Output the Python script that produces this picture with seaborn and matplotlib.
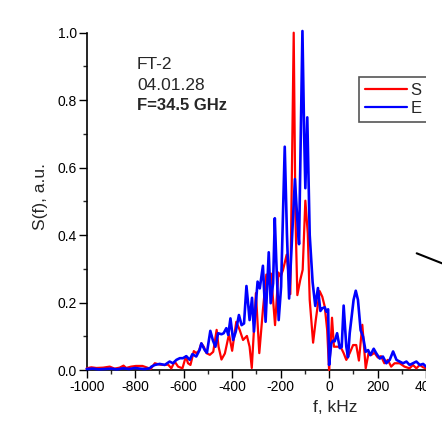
import numpy as np
import pandas as pd
import matplotlib
matplotlib.use("Agg")
import matplotlib.pyplot as plt
import seaborn as sns
from matplotlib.patches import Rectangle
from matplotlib.lines import Line2D
from matplotlib.ticker import MultipleLocator

# ---------------- data ----------------
f_red = [-1000, -981, -960, -932, -905, -885, -864, -848, -837, -817, -797, -770, -750, -736,
         -719, -699, -678, -664, -651, -637, -623, -605, -591, -582, -572, -558, -548, -537,
         -527, -517, -506, -492, -478, -464, -456, -444, -430, -413, -400, -383, -369, -355,
         -339, -328, -319, -310, -302, -288, -273, -259, -249, -240, -231, -223, -209, -200,
         -190, -175, -160, -146, -139, -131, -119, -109, -98, -88, -80, -66, -55, -39, -28,
         -18, -8, 0, 5, 12, 20, 30, 44, 52, 60, 71, 85, 99, 112, 123, 137, 151, 163, 173,
         187, 201, 214, 228, 242, 256, 270, 291, 311, 332, 346, 360, 374, 388, 400]
s_red = [0.005, 0.008, 0.006, 0.007, 0.010, 0.004, 0.007, 0.013, 0.006, 0.010, 0.012, 0.012,
         0.007, 0.003, 0.020, 0.016, 0.015, 0.016, 0.005, 0.025, 0.010, 0.005, 0.040, 0.020,
         0.015, 0.056, 0.050, 0.057, 0.079, 0.069, 0.050, 0.045, 0.054, 0.119, 0.069, 0.031,
         0.049, 0.106, 0.057, 0.143, 0.119, 0.089, 0.101, 0.069, 0.006, 0.120, 0.228, 0.050,
         0.179, 0.283, 0.257, 0.286, 0.207, 0.133, 0.289, 0.277, 0.297, 0.342, 0.225, 1.000,
         0.464, 0.222, 0.267, 0.297, 0.502, 0.405, 0.208, 0.081, 0.148, 0.234, 0.217, 0.188,
         0.119, 0.000, 0.059, 0.155, 0.069, 0.069, 0.069, 0.062, 0.050, 0.030, 0.050, 0.074,
         0.074, 0.028, 0.134, 0.005, 0.051, 0.044, 0.051, 0.037, 0.041, 0.020, 0.030, 0.010,
         0.020, 0.020, 0.010, 0.005, 0.015, 0.005, 0.015, 0.008, 0.005]

f_blue = [-1000, -975, -950, -925, -900, -875, -850, -825, -800, -780, -760, -740, -733, -719,
          -699, -678, -658, -644, -630, -616, -603, -589, -575, -564, -548, -534, -527, -513,
          -504, -490, -479, -469, -458, -444, -435, -424, -416, -407, -396, -385, -372, -361,
          -351, -341, -333, -328, -318, -310, -301, -295, -286, -273, -262, -249, -241, -231,
          -224, -218, -208, -198, -183, -174, -165, -156, -141, -132, -124, -110, -103, -98,
          -90, -80, -68, -57, -46, -36, -28, -18, -11, -4, 0, 9, 16, 23, 33, 44, 52, 60, 71,
          78, 85, 93, 101, 110, 119, 130, 140, 151, 161, 170, 184, 195, 209, 222, 236, 250,
          264, 278, 291, 305, 319, 332, 346, 360, 374, 388, 400]
s_blue = [0.003, 0.004, 0.002, 0.003, 0.004, 0.002, 0.005, 0.003, 0.006, 0.004, 0.003, 0.005,
          0.010, 0.015, 0.018, 0.015, 0.025, 0.020, 0.030, 0.035, 0.035, 0.041, 0.030, 0.047,
          0.040, 0.060, 0.079, 0.059, 0.051, 0.116, 0.087, 0.069, 0.109, 0.106, 0.109, 0.124,
          0.104, 0.153, 0.089, 0.114, 0.163, 0.133, 0.138, 0.249, 0.188, 0.148, 0.214, 0.114,
          0.208, 0.262, 0.242, 0.309, 0.143, 0.349, 0.198, 0.257, 0.450, 0.326, 0.148, 0.247,
          0.662, 0.405, 0.212, 0.346, 0.566, 0.455, 0.373, 1.005, 0.702, 0.539, 0.749, 0.400,
          0.260, 0.190, 0.243, 0.175, 0.183, 0.186, 0.173, 0.180, 0.015, 0.079, 0.087, 0.085,
          0.109, 0.065, 0.068, 0.191, 0.069, 0.038, 0.109, 0.158, 0.208, 0.235, 0.208, 0.118,
          0.099, 0.054, 0.059, 0.044, 0.063, 0.049, 0.034, 0.040, 0.020, 0.030, 0.055, 0.030,
          0.025, 0.020, 0.025, 0.015, 0.020, 0.025, 0.015, 0.018, 0.010]

legend_labels = ["S", "E"]
x_ticks = [-1000, -800, -600, -400, -200, 0, 200, 400]
y_ticks = [0.0, 0.2, 0.4, 0.6, 0.8, 1.0]
info_lines = ["FT-2", "04.01.28", "F=34.5 GHz"]
x_label = "f, kHz"
y_label = "S(f), a.u."

# ---------------- style ----------------
sns.set_style("ticks")
plt.rcParams['font.family'] = ['Liberation Sans', 'DejaVu Sans']

W, H = 442, 433
fig = plt.figure(figsize=(W / 100, H / 100), dpi=100)


def fx(px):
    return px / W


def fy(py):
    return 1 - py / H


x0_px, x1_px = 86.7, 571.5   # f=-1000 .. f=1000
y0_px, y1_px = 370.0, 32.7   # S=0 .. S=1
ax = fig.add_axes([fx(x0_px), fy(y0_px), (x1_px - x0_px) / W, (y0_px - y1_px) / H])

df_red = pd.DataFrame({"f": f_red, "S": s_red})
df_blue = pd.DataFrame({"f": f_blue, "S": s_blue})
sns.lineplot(data=df_red, x="f", y="S", color="#ff0000", linewidth=1.6, ax=ax,
             label=legend_labels[0], sort=False, clip_on=False, zorder=3)
sns.lineplot(data=df_blue, x="f", y="S", color="#0000ff", linewidth=1.9, ax=ax,
             label=legend_labels[1], sort=False, clip_on=False, zorder=4)

ax.set_xlim(-1000, 1000)
ax.set_ylim(0, 1.0)
ax.set_xticks(x_ticks)
ax.set_yticks(y_ticks)
ax.set_xticklabels([str(t) for t in x_ticks])
ax.set_yticklabels([f"{t:.1f}" for t in y_ticks])
ax.xaxis.set_minor_locator(MultipleLocator(100))
ax.yaxis.set_minor_locator(MultipleLocator(0.1))
ax.tick_params(which="major", direction="out", length=5.5, width=1.0, labelsize=10,
               colors="#000000", pad=2)
ax.tick_params(axis="y", which="major", pad=1.5)
ax.tick_params(which="minor", direction="out", length=3, width=1.0)
for side in ["top", "right"]:
    ax.spines[side].set_visible(False)
for side in ["left", "bottom"]:
    ax.spines[side].set_linewidth(1.2)
    ax.spines[side].set_color("#000000")

ax.set_xlabel(x_label, fontsize=12.5)
ax.set_ylabel(y_label, fontsize=12.5)
ax.xaxis.set_label_coords((335 - x0_px) / (x1_px - x0_px), -(412 - y0_px) / (y0_px - y1_px),
                          transform=ax.transAxes)
ax.xaxis.label.set_va("baseline")
ax.yaxis.set_label_coords(-(86.7 - 40) / (x1_px - x0_px), (y0_px - 196) / (y0_px - y1_px),
                          transform=ax.transAxes)
ax.yaxis.label.set_va("center")

handles, _ = ax.get_legend_handles_labels()
# the original legend box runs past the cropped right edge: pad the labels
leg = ax.legend(handles, [lab + "    " for lab in legend_labels],
                loc="upper left", bbox_to_anchor=(fx(359), fy(77)),
                bbox_transform=fig.transFigure, borderaxespad=0, fontsize=12,
                frameon=True, fancybox=False, handlelength=2.5, handletextpad=0.25,
                borderpad=0.35, labelspacing=0.2)
leg.get_frame().set_edgecolor("#555555")
leg.get_frame().set_linewidth(1.2)
leg.get_frame().set_alpha(1)
for ln in leg.get_lines():
    ln.set_linewidth(1.6)

# info text
fig.text(fx(137), fy(69), info_lines[0], fontsize=12.5, va="baseline")
fig.text(fx(137), fy(89.5), info_lines[1], fontsize=12.5, va="baseline")
fig.text(fx(137), fy(109.5), info_lines[2], fontsize=12, va="baseline", fontweight="bold")

# cropped right edge of the original figure
fig.add_artist(Rectangle((fx(426), 0), 1 - fx(426), 1, transform=fig.transFigure,
                         facecolor="white", edgecolor="none", zorder=10))
fig.add_artist(Line2D([fx(416.7), fx(442)], [fy(253.3), fy(263.3)], transform=fig.transFigure,
                      color="black", linewidth=1.5, zorder=11))

fig.savefig("out.png", dpi=100)
